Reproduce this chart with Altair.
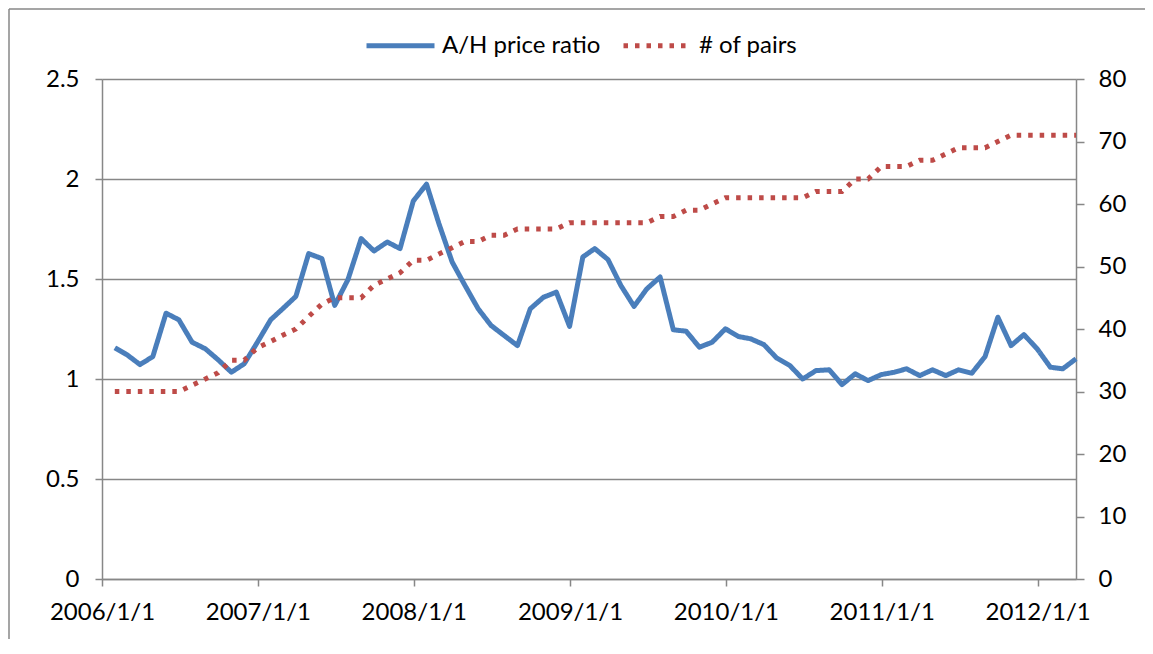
import calendar
import altair as alt
import pandas as pd

# ---- data ----
years = [2006, 2007, 2008, 2009, 2010, 2011, 2012]
ratio = [
    1.156, 1.122, 1.072, 1.112, 1.329, 1.296, 1.184, 1.151, 1.096, 1.034, 1.076, 1.184,
    1.296, 1.351, 1.413, 1.627, 1.602, 1.368, 1.497, 1.702, 1.640, 1.685, 1.652, 1.890,
    1.974, 1.777, 1.585, 1.468, 1.351, 1.268, 1.217, 1.167, 1.351, 1.409, 1.434, 1.263,
    1.610, 1.652, 1.597, 1.468, 1.363, 1.451, 1.510, 1.246, 1.239, 1.159, 1.184, 1.251,
    1.212, 1.201, 1.172, 1.105, 1.067, 1.000, 1.042, 1.046, 0.972, 1.026, 0.992, 1.022,
    1.034, 1.051, 1.017, 1.046, 1.017, 1.046, 1.029, 1.112, 1.309, 1.167, 1.222, 1.151,
    1.059, 1.051, 1.101,
]
pairs = [
    30, 30, 30, 30, 30, 30, 31, 32, 33, 35, 35, 37,
    38, 39, 40, 42, 44, 45, 45, 45, 47, 48, 49, 51,
    51, 52, 53, 54, 54, 55, 55, 56, 56, 56, 56, 57,
    57, 57, 57, 57, 57, 57, 58, 58, 59, 59, 60, 61,
    61, 61, 61, 61, 61, 61, 62, 62, 62, 64, 64, 66,
    66, 66, 67, 67, 68, 69, 69, 69, 70, 71, 71, 71,
    71, 71, 71,
]
series_names = ["A/H price ratio", "# of pairs"]
left_ticks = [0, 0.5, 1, 1.5, 2, 2.5]
right_ticks = [0, 10, 20, 30, 40, 50, 60, 70, 80]

# month-end dates, 2006/1 .. 2012/3
dates = []
for y in years:
    for m in range(1, 13):
        if len(dates) < len(ratio):
            d = calendar.monthrange(y, m)[1]
            dates.append(f"{y}-{m:02d}-{d:02d}")

df = pd.DataFrame({"date": dates, "ratio": ratio, "pairs": pairs})

FONT = "Lato"
GRAY = "#878787"
BLUE = "#4A7EBB"
RED = "#BE4B48"

x_ticks = [alt.DateTime(year=y, month=1, date=1, utc=True) for y in years]

x_enc = alt.X(
    "date:T",
    scale=alt.Scale(type="utc",
                    domain=[alt.DateTime(year=2006, month=1, date=1, utc=True),
                            alt.DateTime(year=2012, month=3, date=31, utc=True)]),
    axis=alt.Axis(values=x_ticks, format="%Y/%-m/%-d", title=None, grid=False,
                  labelFlush=False, labelOverlap=False,
                  labelFont=FONT, labelFontSize=24, labelColor="black",
                  labelPadding=14, tickSize=7, tickWidth=1.5, tickColor=GRAY,
                  domainColor=GRAY, domainWidth=1.5),
)

legend = alt.Legend(title=None, orient="none", legendX=262, legendY=-70,
                    direction="horizontal", symbolType="stroke", symbolSize=4624,
                    symbolStrokeWidth=5, labelFont=FONT, labelFontSize=24,
                    labelColor="black", labelOffset=5, columnPadding=12,
                    padding=0)

color_scale = alt.Scale(domain=series_names, range=[BLUE, RED])
dash_scale = alt.Scale(domain=series_names, range=[[1, 0], [4.5, 7]])

base = alt.Chart(df)

blue = base.transform_calculate(series="'A/H price ratio'").mark_line(
    strokeWidth=5, strokeJoin="round"
).encode(
    x=x_enc,
    y=alt.Y("ratio:Q", scale=alt.Scale(domain=[0, 2.5], nice=False, zero=True),
            axis=alt.Axis(values=left_ticks, format="~g", title=None, grid=True,
                          gridColor=GRAY, gridWidth=1.5,
                          labelFont=FONT, labelFontSize=24, labelColor="black",
                          labelPadding=16, tickSize=7, tickWidth=1.5, tickColor=GRAY,
                          domainColor=GRAY, domainWidth=1.5)),
    color=alt.Color("series:N", scale=color_scale, legend=legend),
    strokeDash=alt.StrokeDash("series:N", scale=dash_scale, legend=legend),
)

red = base.transform_calculate(series="'# of pairs'").mark_line(
    strokeWidth=5
).encode(
    x=x_enc,
    y=alt.Y("pairs:Q", scale=alt.Scale(domain=[0, 80], nice=False, zero=True),
            axis=alt.Axis(orient="right", values=right_ticks, title=None, grid=False,
                          labelFont=FONT, labelFontSize=24, labelColor="black",
                          labelPadding=14, tickSize=8, tickWidth=1.5, tickColor=GRAY,
                          domainColor=GRAY, domainWidth=1.5)),
    color=alt.Color("series:N", scale=color_scale, legend=legend),
    strokeDash=alt.StrokeDash("series:N", scale=dash_scale, legend=legend),
)

frame_data = alt.Data(values=[{"k": 1}])
border_left = alt.Chart(frame_data).mark_rule(color=GRAY, strokeWidth=1.5).encode(
    x=alt.value(-93), y=alt.value(-70), y2=alt.value(600))
border_top = alt.Chart(frame_data).mark_rule(color=GRAY, strokeWidth=1.5).encode(
    x=alt.value(-93), x2=alt.value(1100), y=alt.value(-70))

chart = alt.layer(blue, red, border_left, border_top).resolve_scale(
    y="independent"
).properties(
    width=974, height=500,
    autosize=alt.AutoSizeParams(type="none"),
    padding={"left": 94, "top": 71, "right": 69, "bottom": 60},
).configure_view(stroke=None).configure(background="white")

chart.save("out.html", embed_options={"renderer": "svg", "actions": False})
